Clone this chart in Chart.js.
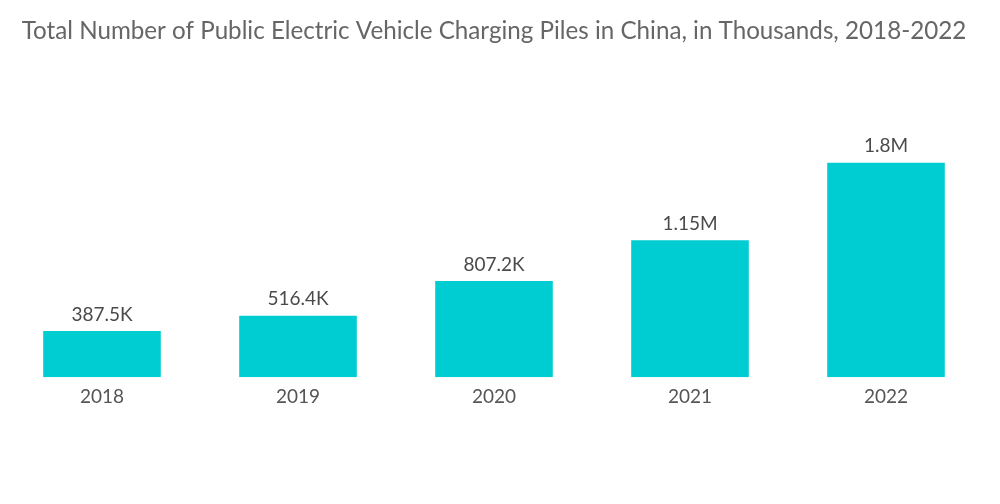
<!DOCTYPE html>
<html>
<head>
<meta charset="utf-8">
<script src="https://cdn.jsdelivr.net/npm/chart.js@4.4.0/dist/chart.umd.min.js"></script>
<style>
  html, body { margin: 0; padding: 0; background: #fff; }
  #wrap { width: 1000px; height: 504px; position: relative; }
</style>
</head>
<body>
<div id="wrap"><canvas id="chart"></canvas></div>
<script>
// values in thousands
const years = ['2018', '2019', '2020', '2021', '2022'];
const piles = [387.5, 516.4, 807.2, 1150, 1800];
const pileLabels = ['387.5K', '516.4K', '807.2K', '1.15M', '1.8M'];

const fontFamily = 'Lato, "Noto Sans", sans-serif';

// draw the value above each bar
const valueLabels = {
  id: 'valueLabels',
  afterDatasetsDraw(chart) {
    const ctx = chart.ctx;
    const meta = chart.getDatasetMeta(0);
    ctx.save();
    ctx.font = '19px ' + fontFamily;
    ctx.fillStyle = '#4a4a4a';
    ctx.textAlign = 'center';
    ctx.textBaseline = 'bottom';
    meta.data.forEach((bar, i) => {
      ctx.fillText(pileLabels[i], bar.x, bar.y - 7);
    });
    ctx.restore();
  }
};

new Chart(document.getElementById('chart'), {
  type: 'bar',
  data: {
    labels: years,
    datasets: [{
      data: piles,
      backgroundColor: '#00cdd1',
      categoryPercentage: 1,
      barPercentage: 0.6
    }]
  },
  options: {
    responsive: true,
    maintainAspectRatio: false,
    animation: false,
    layout: { padding: { left: 4, right: 16, top: 0, bottom: 96 } },
    plugins: {
      legend: { display: false },
      tooltip: { enabled: false },
      title: {
        display: true,
        text: 'Total Number of Public Electric Vehicle Charging Piles in China, in Thousands, 2018-2022',
        color: '#666666',
        font: { family: fontFamily, size: 24.2, weight: 'normal' },
        padding: { top: 17, bottom: 93 }
      }
    },
    scales: {
      x: {
        grid: { display: false },
        border: { display: false },
        ticks: {
          color: '#555555',
          padding: 0,
          font: { family: fontFamily, size: 19 }
        }
      },
      y: {
        display: false,
        min: 0,
        max: 2000
      }
    }
  },
  plugins: [valueLabels]
});
</script>
</body>
</html>
